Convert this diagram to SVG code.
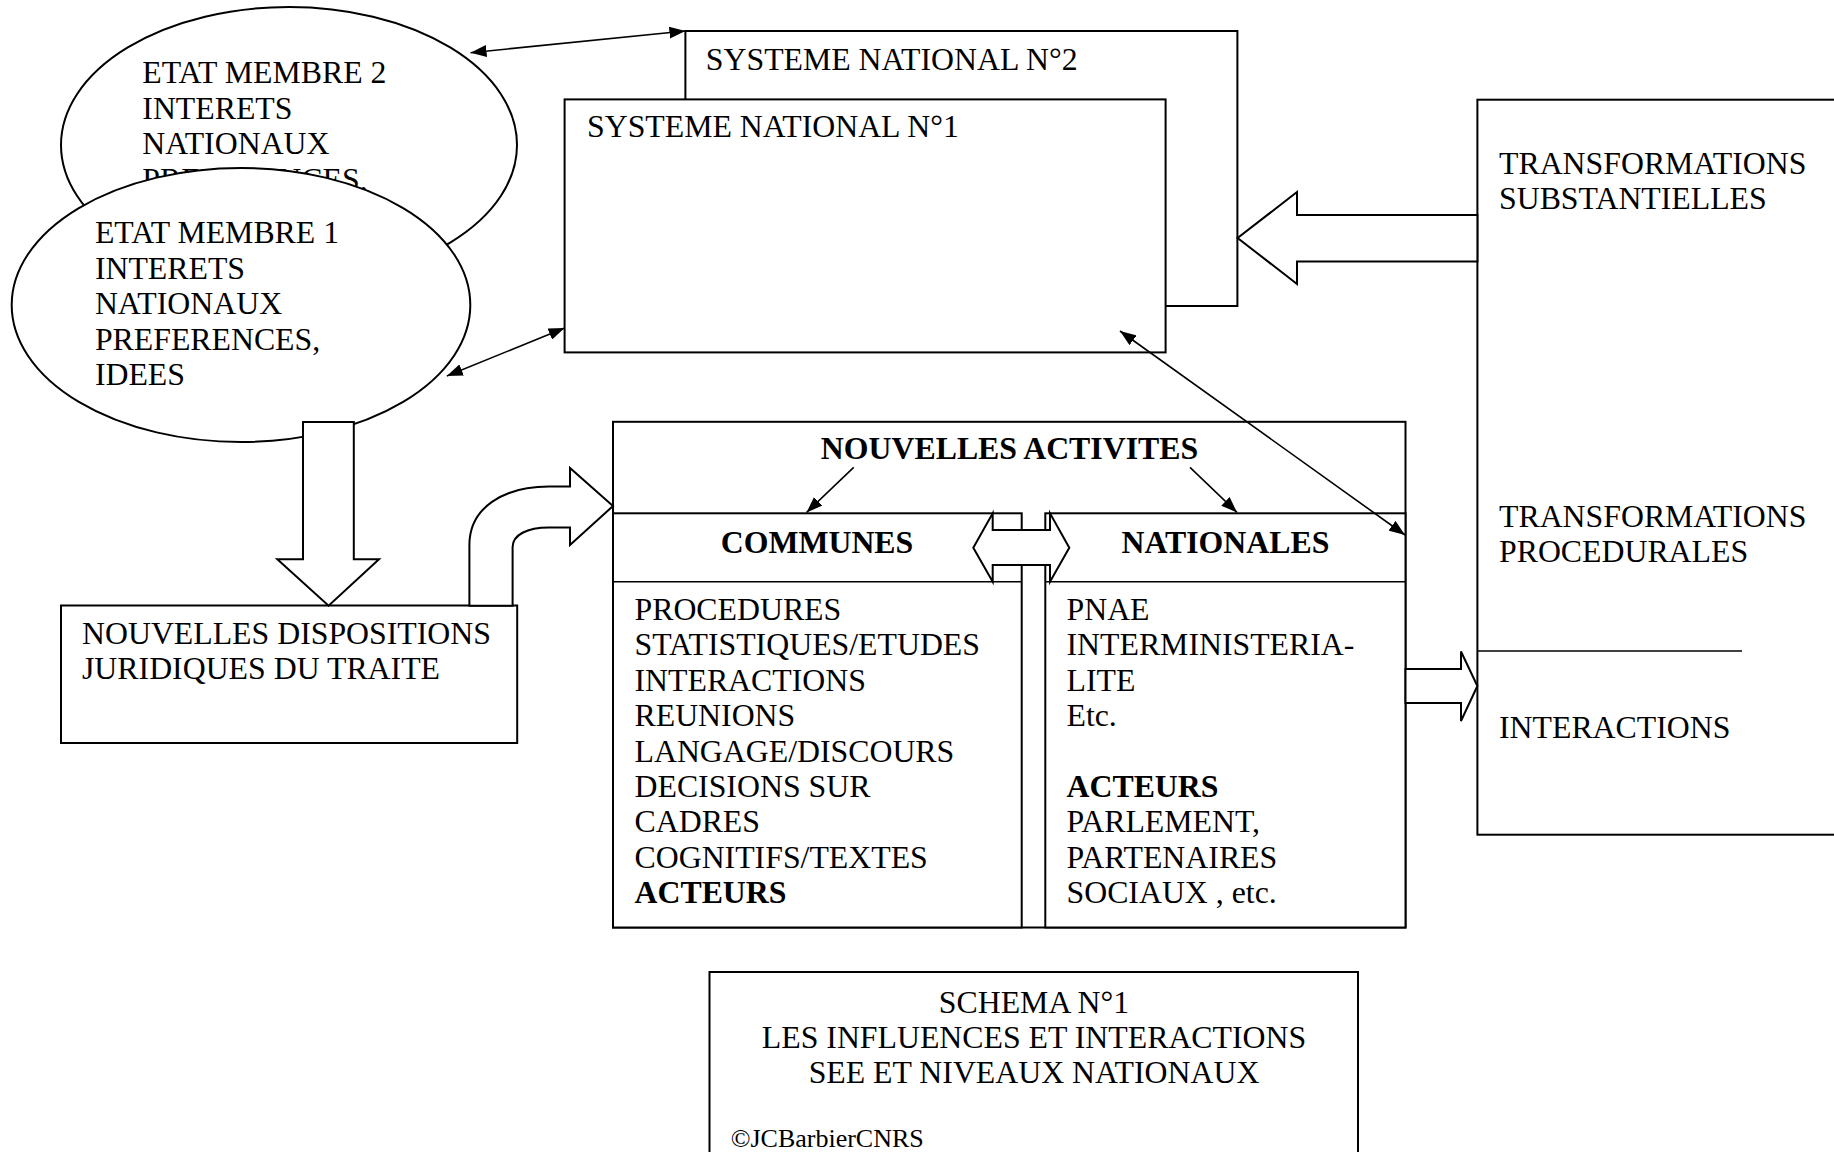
<svg xmlns="http://www.w3.org/2000/svg" width="1834" height="1152" viewBox="0 0 1834 1152">
<defs>
<marker id="ah" viewBox="0 0 16 12" refX="16" refY="6" markerWidth="16" markerHeight="12" markerUnits="userSpaceOnUse" orient="auto-start-reverse">
<path d="M0,0 L16,6 L0,12 Z" fill="#000"/>
</marker>
</defs>
<style>
.t{font-family:"Liberation Serif","Times New Roman",serif;font-size:31.8px;fill:#000}
.b{font-weight:bold}
.m{text-anchor:middle}
.s{fill:#fff;stroke:#000;stroke-width:2}
.c{fill:none;stroke:#000;stroke-width:1.6}
</style>
<rect width="1834" height="1152" fill="#fff"/>

<g id="systeme2">
<rect class="s" x="685.4" y="31" width="552" height="275"/>
<text class="t" x="705.8" y="70">SYSTEME NATIONAL N°2</text>
</g>
<g id="systeme1">
<rect class="s" x="564.6" y="99.4" width="601" height="253"/>
<text class="t" x="587" y="137">SYSTEME NATIONAL N°1</text>
</g>

<g id="etat2">
<ellipse class="s" cx="289" cy="145" rx="228" ry="138"/>
<text class="t" x="142.3" y="83.3">ETAT MEMBRE 2</text>
<text class="t" x="142.3" y="118.8">INTERETS</text>
<text class="t" x="142.3" y="154.3">NATIONAUX</text>
<text class="t" x="142.3" y="189.8">PREFERENCES,</text>
</g>
<g id="etat1">
<ellipse class="s" cx="241" cy="305" rx="229.3" ry="137"/>
<text class="t" x="94.9" y="243">ETAT MEMBRE 1</text>
<text class="t" x="94.9" y="278.5">INTERETS</text>
<text class="t" x="94.9" y="314">NATIONAUX</text>
<text class="t" x="94.9" y="349.5">PREFERENCES,</text>
<text class="t" x="94.9" y="385">IDEES</text>
</g>

<g id="transformations">
<rect class="s" x="1477.4" y="99.7" width="420" height="735"/>
<line class="c" x1="1477.4" y1="651" x2="1742" y2="651" stroke-width="2"/>
<text class="t" x="1499" y="174">TRANSFORMATIONS</text>
<text class="t" x="1499" y="209">SUBSTANTIELLES</text>
<text class="t" x="1499" y="526.5">TRANSFORMATIONS</text>
<text class="t" x="1499" y="561.5">PROCEDURALES</text>
<text class="t" x="1499" y="738">INTERACTIONS</text>
</g>

<g id="dispositions">
<rect class="s" x="61" y="605.5" width="456.2" height="137.5"/>
<text class="t" x="82" y="644">NOUVELLES DISPOSITIONS</text>
<text class="t" x="82" y="679.3">JURIDIQUES DU TRAITE</text>
</g>

<g id="activites">
<rect class="s" x="613" y="421.8" width="792.5" height="505.7"/>
<text class="t b m" x="1009.5" y="459">NOUVELLES ACTIVITES</text>
</g>
<g id="communes">
<rect class="s" x="613" y="513.3" width="408.7" height="414.2"/>
<line class="c" x1="613" y1="581.7" x2="1021.7" y2="581.7" stroke-width="2"/>
<text class="t b m" x="817" y="553">COMMUNES</text>
<text class="t" x="634.5" y="620">PROCEDURES</text>
<text class="t" x="634.5" y="655.4">STATISTIQUES/ETUDES</text>
<text class="t" x="634.5" y="690.8">INTERACTIONS</text>
<text class="t" x="634.5" y="726.2">REUNIONS</text>
<text class="t" x="634.5" y="761.6">LANGAGE/DISCOURS</text>
<text class="t" x="634.5" y="797">DECISIONS SUR</text>
<text class="t" x="634.5" y="832.4">CADRES</text>
<text class="t" x="634.5" y="867.8">COGNITIFS/TEXTES</text>
<text class="t b" x="634.5" y="903.2">ACTEURS</text>
</g>
<g id="nationales">
<rect class="s" x="1045.3" y="513.3" width="360.2" height="414.2"/>
<line class="c" x1="1045.3" y1="581.7" x2="1405.5" y2="581.7" stroke-width="2"/>
<text class="t b m" x="1225.4" y="553">NATIONALES</text>
<text class="t" x="1066.5" y="620">PNAE</text>
<text class="t" x="1066.5" y="655.4">INTERMINISTERIA-</text>
<text class="t" x="1066.5" y="690.8">LITE</text>
<text class="t" x="1066.5" y="726.2">Etc.</text>
<text class="t b" x="1066.5" y="797">ACTEURS</text>
<text class="t" x="1066.5" y="832.4">PARLEMENT,</text>
<text class="t" x="1066.5" y="867.8">PARTENAIRES</text>
<text class="t" x="1066.5" y="903.2">SOCIAUX , etc.</text>
</g>

<g id="schema">
<rect class="s" x="709.5" y="972" width="648.5" height="200"/>
<text class="t m" x="1034" y="1013">SCHEMA N°1</text>
<text class="t m" x="1034" y="1048">LES INFLUENCES ET INTERACTIONS</text>
<text class="t m" x="1034" y="1083">SEE ET NIVEAUX NATIONAUX</text>
<text class="t" x="730.7" y="1146.5" style="font-size:26px">©JCBarbierCNRS</text>
</g>

<g id="connectors">
<path class="s" d="M303,422 H353.8 V559.3 H379 L328.6,605.7 L277.3,559.3 H303 Z"/>
<path class="s" d="M469.4,605.7 V545 C469.4,508 503,486.5 549,486.5 H570 V468 L613,506 L570,545 V527.5 H549 C527,527.5 512.6,535 512.6,547 V605.7 Z"/>
<path class="s" d="M1477.4,215 H1297 V192 L1237.6,238 L1297,284 V261.5 H1477.4 Z"/>
<path class="s" d="M1405.5,669 H1461 V651.5 L1477.4,686 L1461,721 V703 H1405.5 Z"/>
<path class="s" d="M973.3,547.7 L992.7,513.3 V530 H1050 V513.3 L1069.3,547.7 L1050,581.7 V565 H992.7 V581.7 Z"/>
<line class="c" x1="470.5" y1="52.7" x2="685.4" y2="31" marker-start="url(#ah)" marker-end="url(#ah)"/>
<line class="c" x1="446.8" y1="376" x2="564.6" y2="328" marker-start="url(#ah)" marker-end="url(#ah)"/>
<line class="c" x1="1120" y1="331" x2="1405" y2="535" marker-start="url(#ah)" marker-end="url(#ah)"/>
<line class="c" x1="853.7" y1="467.4" x2="806.6" y2="512.4" marker-end="url(#ah)"/>
<line class="c" x1="1190" y1="467.4" x2="1237" y2="512.4" marker-end="url(#ah)"/>
</g>
</svg>
